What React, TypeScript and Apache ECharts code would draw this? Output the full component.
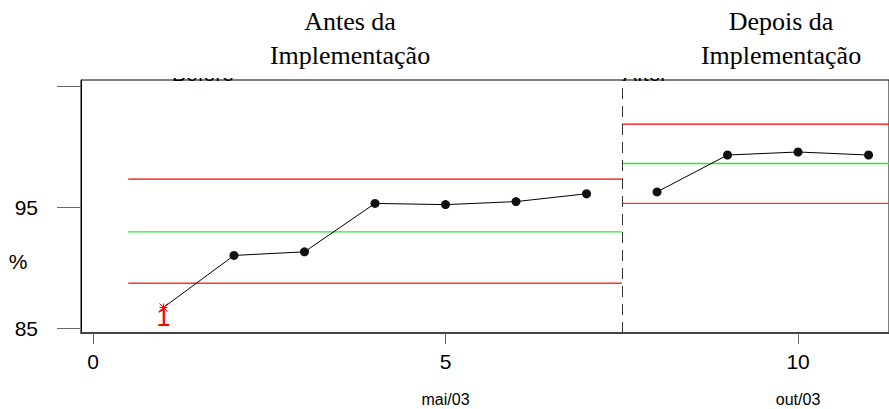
import React, { useEffect, useRef } from "react";
import * as echarts from "echarts";

const samples = [1, 2, 3, 4, 5, 6, 7, 8, 9, 10, 11];
const percent = [86.7, 91.0, 91.3, 95.3, 95.2, 95.45, 96.1, 96.25, 99.3, 99.55, 99.3];
const phaseOf = [0, 0, 0, 0, 0, 0, 0, 1, 1, 1, 1];
const phaseStart = [0.5, 7.5];
const phaseEnd = [7.5, 11.6];
const ucl = [97.3, 101.85];
const center = [92.95, 98.6];
const lcl = [88.7, 95.3];
const phaseTitles = ["Antes da\nImplementação", "Depois da\nImplementação"];
const phaseTags = ["Before", "After"];
const xTickValues = [0, 5, 10];
const xTickMonths = ["", "mai/03", "out/03"];
const yTickValues = [85, 95, 105];
const yLabelValues = [85, 95];
const outOfControl = [0];

const SANS = '"Liberation Sans", Arial, sans-serif';
const SERIF = '"Liberation Serif", "Times New Roman", serif';

export default function App() {
  const ref = useRef<HTMLDivElement>(null);
  useEffect(() => {
    if (!ref.current) return;
    const chart = echarts.init(ref.current, null, { renderer: "svg" });

    const limitSeries: any[] = [];
    phaseStart.forEach((s, p) => {
      const e = phaseEnd[p];
      const defs = [
        { v: ucl[p], c: "#ff0000" },
        { v: center[p], c: "#2ee82e" },
        { v: lcl[p], c: "#ff3030" },
      ];
      defs.forEach((d) => {
        limitSeries.push({
          type: "line",
          silent: true,
          symbol: "none",
          clip: true,
          color: d.c,
          lineStyle: { color: d.c, width: 1.3 },
          data: [
            [s, d.v],
            [e, d.v],
          ],
          z: 2,
        });
      });
    });

    const pointSeries = phaseStart.map((_, p) => {
      const data: any[] = [];
      samples.forEach((x, i) => {
        if (phaseOf[i] !== p) return;
        if (outOfControl.includes(i)) {
          data.push({
            value: [x, percent[i]],
            symbol: "path://M0,0L10,10M10,0L0,10M5,0L5,10M0,5L10,5",
            symbolSize: 8,
            itemStyle: { color: "#ff0000", borderColor: "#ff0000", borderWidth: 1 },
            label: {
              show: true,
              formatter: "1",
              position: "bottom",
              distance: -7,
              color: "#ff0000",
              fontSize: 25,
              fontFamily: SANS,
            },
          });
        } else {
          data.push([x, percent[i]]);
        }
      });
      return {
        type: "line",
        data,
        symbol: "circle",
        symbolSize: 9,
        color: "#111",
        lineStyle: { color: "#000", width: 1 },
        itemStyle: { color: "#111" },
        z: 3,
        markLine:
          p === 0
            ? {
                silent: true,
                symbol: "none",
                label: { show: false },
                lineStyle: { color: "#333", type: [11, 7], width: 1 },
                data: [{ xAxis: phaseEnd[0] }],
              }
            : undefined,
      };
    });

    chart.setOption({
      animation: false,
      grid: {
        left: 81,
        top: 80,
        right: -2,
        bottom: 76,
        show: true,
        borderColor: "#000",
        borderWidth: 1,
        backgroundColor: "transparent",
      },
      xAxis: {
        type: "value",
        min: -0.17,
        max: 11.29,
        splitLine: { show: false },
        axisLine: { show: true, onZero: false, lineStyle: { color: "#444", width: 2 } },
        axisTick: { show: true, customValues: xTickValues, length: 11, lineStyle: { color: "#666" } },
        axisLabel: {
          customValues: xTickValues,
          margin: 16,
          color: "#000",
          formatter: (v: number) => {
            const i = xTickValues.indexOf(v);
            const m = i >= 0 ? xTickMonths[i] : "";
            return m ? `{n|${v}}\n{m|${m}}` : `{n|${v}}`;
          },
          rich: {
            n: { fontSize: 21, fontFamily: SANS, lineHeight: 24, color: "#000" },
            m: { fontSize: 16, fontFamily: SANS, lineHeight: 52, color: "#000" },
          },
        },
      },
      yAxis: {
        type: "value",
        min: 84.59,
        max: 105.5,
        splitLine: { show: false },
        axisLine: { show: true, onZero: false, lineStyle: { color: "#000", width: 1 } },
        axisTick: { show: true, customValues: yTickValues, length: 24, lineStyle: { color: "#666" } },
        axisLabel: {
          customValues: yLabelValues,
          margin: 43,
          fontSize: 21,
          fontFamily: SANS,
          color: "#000",
        },
      },
      graphic: [
        {
          type: "text",
          x: 18,
          y: 261,
          style: { text: "%", font: `21px ${SANS}`, fill: "#000", align: "center", verticalAlign: "middle" },
        },
        {
          type: "text",
          x: 172,
          y: 84,
          z: 1,
          style: { text: phaseTags[0], font: `21px ${SANS}`, fill: "#000", align: "left", verticalAlign: "bottom" },
        },
        {
          type: "text",
          x: 623,
          y: 84,
          z: 1,
          style: { text: phaseTags[1], font: `21px ${SANS}`, fill: "#000", align: "left", verticalAlign: "bottom" },
        },
        { type: "rect", z: 5, shape: { x: 160, y: 50, width: 90, height: 28 }, style: { fill: "#fff" } },
        { type: "rect", z: 5, shape: { x: 610, y: 50, width: 70, height: 28 }, style: { fill: "#fff" } },
        {
          type: "text",
          x: 350,
          y: 4,
          z: 6,
          style: { text: phaseTitles[0], font: `26px ${SERIF}`, fill: "#000", align: "center", verticalAlign: "top", lineHeight: 34 },
        },
        {
          type: "text",
          x: 781,
          y: 4,
          z: 6,
          style: { text: phaseTitles[1], font: `26px ${SERIF}`, fill: "#000", align: "center", verticalAlign: "top", lineHeight: 34 },
        },
      ],
      series: [...limitSeries, ...pointSeries],
    });
    return () => chart.dispose();
  }, []);
  return (
    <div
      ref={ref}
      style={{ position: "fixed", left: 0, top: 0, width: 889, height: 409, background: "#fff" }}
    />
  );
}
